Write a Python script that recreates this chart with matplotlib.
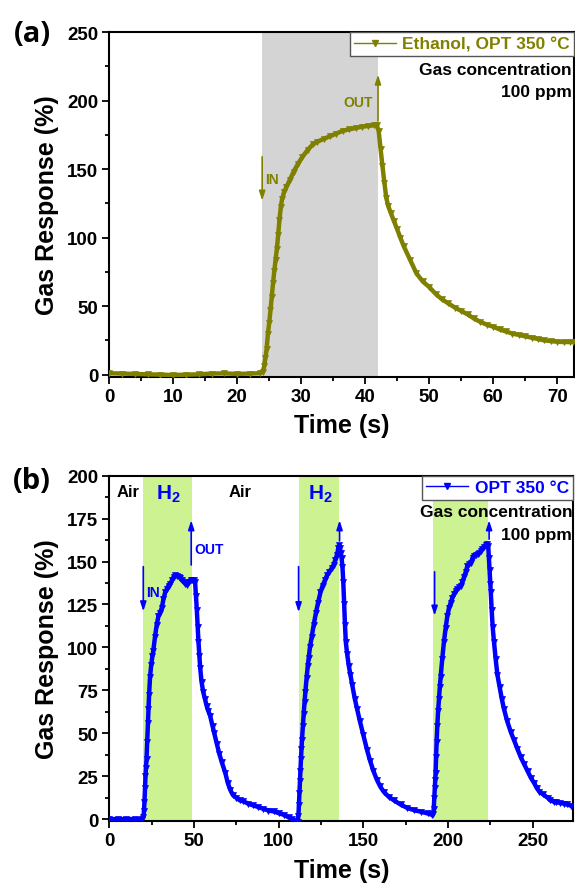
import numpy as np
import matplotlib
matplotlib.use("Agg")
import matplotlib.pyplot as plt
from matplotlib.lines import Line2D
from matplotlib.ticker import MultipleLocator

plt.rcParams['font.family'] = ['Liberation Sans', 'DejaVu Sans']
plt.rcParams['font.weight'] = 'bold'
plt.rcParams['mathtext.fontset'] = 'custom'
plt.rcParams['mathtext.rm'] = 'Liberation Sans'
plt.rcParams['mathtext.bf'] = 'Liberation Sans:bold'

# ---- panel (a): ethanol ----
time_a = [0, 2, 4, 6, 8, 10, 12, 14, 16, 18, 20, 22, 23.5, 24.0, 24.2, 24.4,
          24.6, 24.8, 25.0, 25.2, 25.4, 25.6, 25.8, 26.0, 26.2, 26.4, 26.6,
          26.8, 27.0, 27.3, 27.7, 28.2, 28.8, 29.5, 30.2, 31.0, 31.8, 32.5,
          33.5, 34.5, 35.5, 36.5, 37.5, 38.5, 39.5, 40.5, 41.3, 41.8, 42.1,
          42.4, 42.7, 43.0, 43.3, 43.6, 44.0, 44.5, 45, 45.5, 46, 47, 48, 49,
          50, 51, 52, 53, 54, 55, 56, 57, 58, 59, 60, 61, 62, 63, 64, 65, 66,
          67, 68, 69, 70, 71, 72, 72.5]
resp_a = [1.0, 0.8, 0.5, 0.2, 0.0, -0.3, 0.0, 0.2, 0.8, 0.9, 0.5, 0.8, 1.0,
          2, 6, 12, 19, 30, 38, 47, 57, 67, 76, 84, 92, 102, 113, 122, 128,
          133, 137, 142, 148, 154, 159, 164, 168, 170, 172, 174, 176, 178,
          179, 180, 181, 181.5, 182, 182, 178, 165, 152, 140, 129, 123, 118,
          112, 106, 100, 94, 84, 74, 68, 64, 59, 55, 52, 49, 46.5, 44, 41,
          38.5, 36.5, 35, 33, 31.5, 30, 29, 28, 27, 26, 25, 24.5, 24, 23.8,
          23.8, 24]
gas_on_a = (23.9, 42.0)

# ---- panel (b): H2, three cycles ----
time_b = [0, 5, 10, 15, 19.5, 20.2, 20.5, 20.8, 21.1, 21.4, 21.7, 22.0, 22.4,
          22.8, 23.1, 23.5, 24.1, 24.8, 25.5, 26.0, 27.0, 28.0, 29, 30, 31, 32,
          33, 34, 35, 36, 37, 38, 39, 40, 41, 42, 43, 44, 45, 46, 47, 48, 49,
          50, 50.7, 51.2, 51.7, 52.2, 52.7, 53.2, 53.7, 54.5, 55.5, 56.5, 57.5,
          58.5, 59.6, 61, 62, 63.5, 65, 66.5, 68.5, 70, 71.5, 73, 75, 77, 79,
          82, 85, 88, 91, 94, 97, 100, 103, 106, 108, 110, 111.3, 111.7, 112.0,
          112.3, 112.6, 112.9, 113.2, 113.5, 113.8, 114.3, 114.8, 115.3, 115.8,
          116.5, 117.2, 117.8, 118.5, 119.5, 120.7, 122, 123.3, 124.7, 126,
          127.3, 128.6, 130, 131.3, 132.5, 133.5, 134.5, 135.3, 135.7, 136.2,
          136.7, 137.2, 137.7, 138.2, 138.7, 139.2, 139.7, 140.5, 141.5, 142.4,
          143.5, 145, 146.4, 148, 150, 152.3, 154, 156, 158, 160, 162, 165,
          168, 172, 176, 180, 184, 188, 190.5, 191.3, 191.6, 191.9, 192.2,
          192.5, 192.7, 193.0, 193.3, 193.7, 194.2, 194.7, 195.2, 195.7, 196.6,
          197.6, 198.6, 199.6, 200.6, 201.6, 202.6, 203.6, 204.6, 205.6, 206.6,
          207.6, 208.5, 209.5, 210.5, 211.5, 212.5, 213.5, 214.5, 215.4, 216.5,
          217.5, 218.5, 219.3, 220.3, 221.3, 222.3, 223.3, 223.8, 224.2, 224.6,
          225.0, 225.3, 225.8, 226.4, 227.2, 228.2, 229.2, 230.5, 231.8, 233.1,
          235, 237, 239, 241, 243, 245, 247, 249, 250.9, 252.5, 254, 256, 258.8,
          260.5, 262.7, 264, 266, 268.6, 270.5, 272.6]
resp_b = [0, 0, 0, 0, 0.2, 1, 5, 10, 18, 25, 30, 35, 45, 56, 64, 72, 83, 90,
          95, 98, 106, 113, 118, 120, 123, 128, 132, 134, 136, 137, 139, 141,
          142, 141.5, 141, 140.5, 139, 138, 137, 136.5, 138, 139.5, 139.5, 139,
          138, 130, 122, 112, 103, 95, 88, 80, 74, 70, 66, 63, 60, 54, 50, 44,
          38, 33, 27, 21, 17, 14, 12.5, 11, 10.5, 9, 8, 7, 6, 5, 4.5, 3.5, 2.5,
          1, 0, -1, -1.5, 2, 8, 15, 22, 28, 35, 41, 46, 54, 61, 68, 74, 82, 89,
          94, 100, 106, 113, 120, 126, 132, 136, 139, 142, 144, 146, 148, 151,
          154, 158, 159.5, 158, 155, 152, 147, 138, 125, 113, 103, 96, 89, 84,
          78, 70, 64, 57, 49, 40, 34, 28, 23, 19, 16, 13, 11, 8.5, 6.5, 5.2,
          4.3, 3.3, 2.5, 3, 6, 12, 18, 23, 27, 36, 45, 54, 63, 70, 77, 83, 93,
          103, 111, 118, 123, 126, 129, 131, 133, 134, 135, 136, 138, 141, 144,
          147.5, 148.5, 149, 152, 153.5, 154, 154.5, 155, 156, 157.5, 158.5,
          159.5, 160.5, 159, 152, 145, 137, 132, 122, 112, 103, 93, 84, 77, 70,
          64, 57, 51, 46, 41, 36, 32, 28, 24, 21, 18, 16, 14.5, 12.5, 11, 10,
          9.8, 9.5, 9.0, 8.5, 7.8]
gas_on_b = [(20.1, 48.8), (112.3, 135.7), (191.3, 223.7)]
# arrows: (time, start, end)
in_arrows_b = [(20.1, 147, 121), (111.8, 147, 120.5), (192.1, 144, 118.5)]
out_arrows_b = [(48.4, 148, 174), (136.0, 162, 174), (224.3, 163, 174)]

OLIVE = '#808000'
BLUE = '#0000ff'
GRAY = '#d4d4d4'
GREEN = '#ccf291'
TICK_FS = 13.5
LABEL_FS = 18


def style_axes(ax, xmaj, ymaj):
    for s in ax.spines.values():
        s.set_linewidth(1.5)
    ax.xaxis.set_major_locator(MultipleLocator(xmaj))
    ax.xaxis.set_minor_locator(MultipleLocator(xmaj / 2))
    ax.yaxis.set_major_locator(MultipleLocator(ymaj))
    ax.yaxis.set_minor_locator(MultipleLocator(ymaj / 2))
    ax.tick_params(which='both', direction='out', width=1.3, top=False, right=False)
    ax.tick_params(which='major', length=5, labelsize=TICK_FS, pad=3)
    ax.tick_params(which='minor', length=3)
    for lab in ax.get_xticklabels() + ax.get_yticklabels():
        lab.set_fontweight('bold')


def arrow(ax, x, y0, y1, color):
    ax.annotate('', xy=(x, y1), xytext=(x, y0),
                arrowprops=dict(arrowstyle='-|>,head_length=0.55,head_width=0.18',
                                color=color, lw=1.2, mutation_scale=10,
                                shrinkA=0, shrinkB=0))


fig = plt.figure(figsize=(5.75, 8.95), dpi=100)

# ---------------- (a) ----------------
ax1 = fig.add_axes([0.190, 0.578, 0.809, 0.385])
ax1.axvspan(*gas_on_a, color=GRAY, lw=0, zorder=0)
ax1.plot(time_a, resp_a, color=OLIVE, lw=3.2, marker='v', ms=4.5, mew=0.5, zorder=3)
ax1.set_xlim(0, 72.7)
ax1.set_ylim(-1.5, 250)
style_axes(ax1, 10, 50)
ax1.set_xlabel('Time (s)', fontsize=LABEL_FS, fontweight='bold', labelpad=6)
ax1.set_ylabel('Gas Response (%)', fontsize=LABEL_FS, fontweight='bold', labelpad=6)

arrow(ax1, 23.9, 159, 127, OLIVE)
ax1.text(24.4, 143, 'IN', color=OLIVE, fontsize=10, fontweight='bold', ha='left', va='center')
arrow(ax1, 42.0, 185, 219, OLIVE)
ax1.text(41.2, 199, 'OUT', color=OLIVE, fontsize=10, fontweight='bold', ha='right', va='center')

h1 = Line2D([], [], color=OLIVE, lw=1, marker='v', ms=4)
leg1 = ax1.legend([h1], ['Ethanol, OPT 350 \u00b0C'], loc='upper right',
                  borderaxespad=0, fancybox=False, edgecolor='#555555',
                  framealpha=1, handlelength=2.4, numpoints=1,
                  prop={'size': 12.5, 'weight': 'bold'}, labelcolor=OLIVE,
                  borderpad=0.25, handletextpad=0.4)
leg1.get_frame().set_linewidth(1.0)
ax1.text(0.994, 0.891, 'Gas concentration', transform=ax1.transAxes,
         fontsize=12.5, fontweight='bold', ha='right', va='center')
ax1.text(0.994, 0.8275, '100 ppm', transform=ax1.transAxes,
         fontsize=12.5, fontweight='bold', ha='right', va='center')

# ---------------- (b) ----------------
ax2 = fig.add_axes([0.190, 0.0812, 0.807, 0.3862])
for a, b in gas_on_b:
    ax2.axvspan(a, b, color=GREEN, lw=0, zorder=0)
ax2.plot(time_b, resp_b, color=BLUE, lw=3.2, marker='v', ms=4.5, mew=0.5, zorder=3)
ax2.set_xlim(0, 274)
ax2.set_ylim(-1.3, 200)
style_axes(ax2, 50, 25)
ax2.set_xlabel('Time (s)', fontsize=LABEL_FS, fontweight='bold', labelpad=6)
ax2.set_ylabel('Gas Response (%)', fontsize=LABEL_FS, fontweight='bold', labelpad=6)

for x, y0, y1 in in_arrows_b:
    arrow(ax2, x, y0, y1, BLUE)
for x, y0, y1 in out_arrows_b:
    arrow(ax2, x, y0, y1, BLUE)
ax2.text(21.8, 132, 'IN', color=BLUE, fontsize=10, fontweight='bold', ha='left', va='center')
ax2.text(50.5, 157.5, 'OUT', color=BLUE, fontsize=10, fontweight='bold', ha='left', va='center')

ax2.text(11, 191, 'Air', fontsize=12, fontweight='bold', ha='center', va='center')
ax2.text(77.5, 191, 'Air', fontsize=12, fontweight='bold', ha='center', va='center')
ax2.text(34.7, 190, r'H$_\mathbf{2}$', color=BLUE, fontsize=15, fontweight='bold',
         ha='center', va='center')
ax2.text(124.7, 190, r'H$_\mathbf{2}$', color=BLUE, fontsize=15, fontweight='bold',
         ha='center', va='center')

h2 = Line2D([], [], color=BLUE, lw=1, marker='v', ms=4)
leg2 = ax2.legend([h2], ['OPT 350 \u00b0C'], loc='upper right',
                  borderaxespad=0, fancybox=False, edgecolor='#555555',
                  framealpha=1, handlelength=2.4, numpoints=1,
                  prop={'size': 12.5, 'weight': 'bold'}, labelcolor=BLUE,
                  borderpad=0.25, handletextpad=0.4)
leg2.get_frame().set_linewidth(1.0)
ax2.text(0.998, 0.895, 'Gas concentration', transform=ax2.transAxes,
         fontsize=12.5, fontweight='bold', ha='right', va='center')
ax2.text(0.998, 0.831, '100 ppm', transform=ax2.transAxes,
         fontsize=12.5, fontweight='bold', ha='right', va='center')

fig.text(0.0557, 0.962, '(a)', fontsize=21, fontweight='bold', family='Open Sans',
         ha='center', va='center')
fig.text(0.0557, 0.4615, '(b)', fontsize=21, fontweight='bold', family='Open Sans',
         ha='center', va='center')

fig.savefig('out.png', dpi=100)
